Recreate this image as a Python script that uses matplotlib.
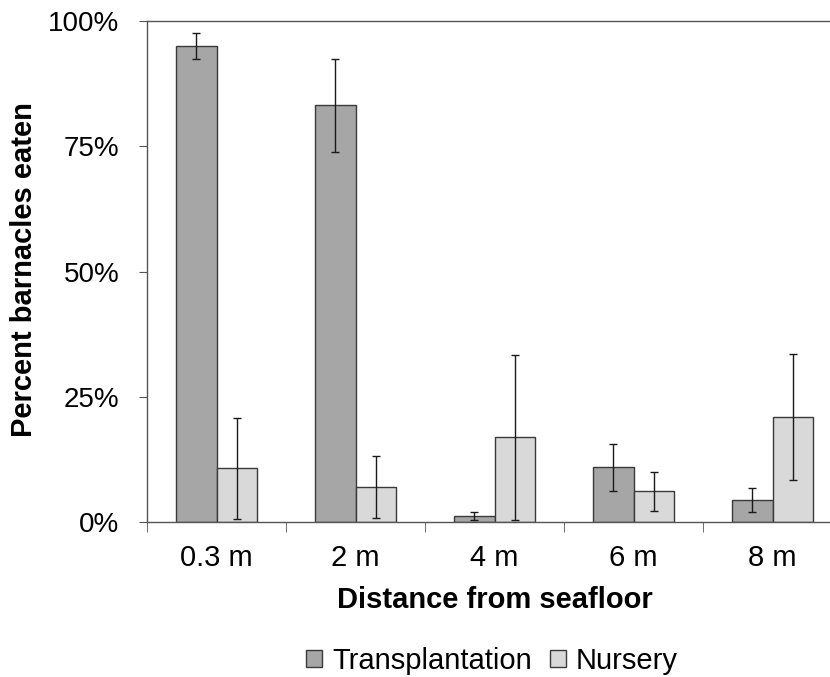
import matplotlib
matplotlib.use("Agg")
import matplotlib.pyplot as plt
import numpy as np

plt.rcParams['font.family'] = ['Liberation Sans', 'DejaVu Sans']

categories = ["0.3 m", "2 m", "4 m", "6 m", "8 m"]
transplantation = [95.1, 83.2, 1.1, 10.9, 4.4]
transplantation_err = [2.6, 9.3, 0.8, 4.75, 2.35]
nursery = [10.7, 6.9, 16.9, 6.1, 20.9]
nursery_err = [10.1, 6.2, 16.5, 3.85, 12.6]
yticks = [0, 25, 50, 75, 100]
yticklabels = ["0%", "25%", "50%", "75%", "100%"]

W, H = 830, 677
fig = plt.figure(figsize=(W/100, H/100), dpi=100)
ax = fig.add_axes([147/W, 1 - 522/H, 1 - 147/W, (522 - 21)/H])

x = np.arange(len(categories))
w = 0.288
ekw = dict(ecolor="#1a1a1a", elinewidth=1.0, capthick=1.0)
ax.bar(x - w/2, transplantation, w, color="#a6a6a6", edgecolor="#3a3a3a",
       linewidth=1.0, yerr=transplantation_err, capsize=3, error_kw=ekw,
       label="Transplantation")
ax.bar(x + w/2, nursery, w, color="#d9d9d9", edgecolor="#3a3a3a",
       linewidth=1.0, yerr=nursery_err, capsize=3, error_kw=ekw,
       label="Nursery")

ax.set_xlim(-0.5, -0.5 + (W - 147) / 139.0)
ax.set_ylim(0, 100)
ax.set_yticks(yticks)
ax.set_yticklabels(yticklabels, fontsize=20)
ax.set_xticks(x)
ax.set_xticklabels(categories, fontsize=21)
ax.tick_params(axis='x', length=0, pad=15.5)
ax.tick_params(axis='y', length=6, direction='out', color="#555555", pad=14)
ax.set_xticks(np.arange(len(categories)) - 0.5, minor=True)
ax.tick_params(axis='x', which='minor', length=7, direction='out', color="#555555")

ax.spines['right'].set_visible(False)
for s in ['left', 'bottom', 'top']:
    ax.spines[s].set_color("#555555")
    ax.spines[s].set_linewidth(1.0)

fig.text(24/W, 1 - 270/H, "Percent barnacles eaten", rotation=90, ha='center',
         va='center', fontsize=21, fontweight='bold')
fig.text(495/W, 1 - 608/H, "Distance from seafloor", ha='center',
         va='baseline', fontsize=21, fontweight='bold')

fig.legend(loc='center', bbox_to_anchor=(492/W, 1 - 661/H), ncol=2, frameon=False,
           fontsize=21, handlelength=0.55, handleheight=0.55, handletextpad=0.35,
           columnspacing=0.6, borderpad=0)

fig.savefig("out.png", dpi=100)
